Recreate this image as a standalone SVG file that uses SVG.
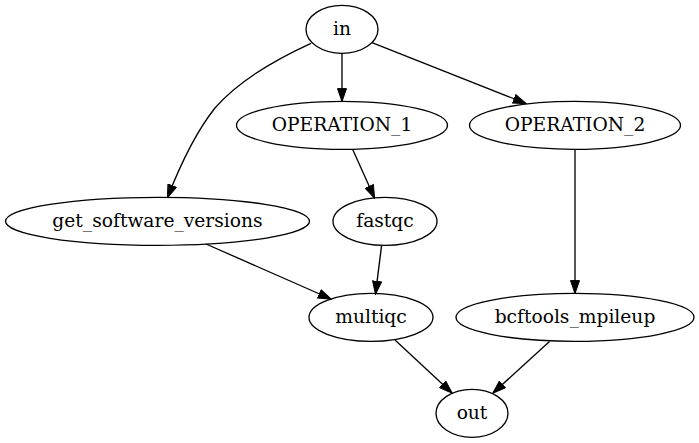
<svg xmlns="http://www.w3.org/2000/svg" width="699" height="443" viewBox="0 0 699 443">
<style>
.n ellipse{fill:none;stroke:#000;stroke-width:1.33}
.n text{font-family:"DejaVu Serif",serif;font-size:18.67px;text-anchor:middle;fill:#000}
.e path{fill:none;stroke:#000;stroke-width:1.33;marker-end:url(#ah)}
</style>
<defs>
<marker id="ah" markerUnits="userSpaceOnUse" viewBox="0 0 14 10" markerWidth="14" markerHeight="10" refX="13.2" refY="5" orient="auto">
<path d="M0.5,0.5 L13.5,5 L0.5,9.5 z" fill="#000" stroke="#000" stroke-width="1"/>
</marker>
</defs>
<rect width="699" height="443" fill="#fff"/>
<g id="edges" class="e">
<path d="M342,53.3 L342,101.3"/>
<path d="M372,42.7 L526,103.5"/>
<path d="M311,43.3 C270,62 235,85 215,108 C195,133 181,163 167.5,197.5"/>
<path d="M352.7,149.5 L374.5,198"/>
<path d="M575,149.3 L575,293.3"/>
<path d="M381.5,246 L375.5,294"/>
<path d="M206,244 L331,299"/>
<path d="M395,340 L452,393"/>
<path d="M549.5,341.5 L493,393"/>
</g>
<g id="in" class="n"><ellipse cx="342" cy="29.33" rx="36" ry="24"/><text x="342" y="35">in</text></g>
<g id="OPERATION_1" class="n"><ellipse cx="342" cy="125.33" rx="105.5" ry="24"/><text x="342" y="131">OPERATION_1</text></g>
<g id="OPERATION_2" class="n"><ellipse cx="575" cy="125.33" rx="105.5" ry="24"/><text x="575" y="131">OPERATION_2</text></g>
<g id="get_software_versions" class="n"><ellipse cx="157.5" cy="221.33" rx="152" ry="24"/><text x="157.5" y="227">get_software_versions</text></g>
<g id="fastqc" class="n"><ellipse cx="385" cy="221.33" rx="52" ry="24"/><text x="385" y="227">fastqc</text></g>
<g id="multiqc" class="n"><ellipse cx="371" cy="317.33" rx="62" ry="24"/><text x="371" y="323">multiqc</text></g>
<g id="bcftools_mpileup" class="n"><ellipse cx="575" cy="317.33" rx="119" ry="24"/><text x="575" y="323">bcftools_mpileup</text></g>
<g id="out" class="n"><ellipse cx="472" cy="413.33" rx="36" ry="24"/><text x="472" y="419">out</text></g>
</svg>
